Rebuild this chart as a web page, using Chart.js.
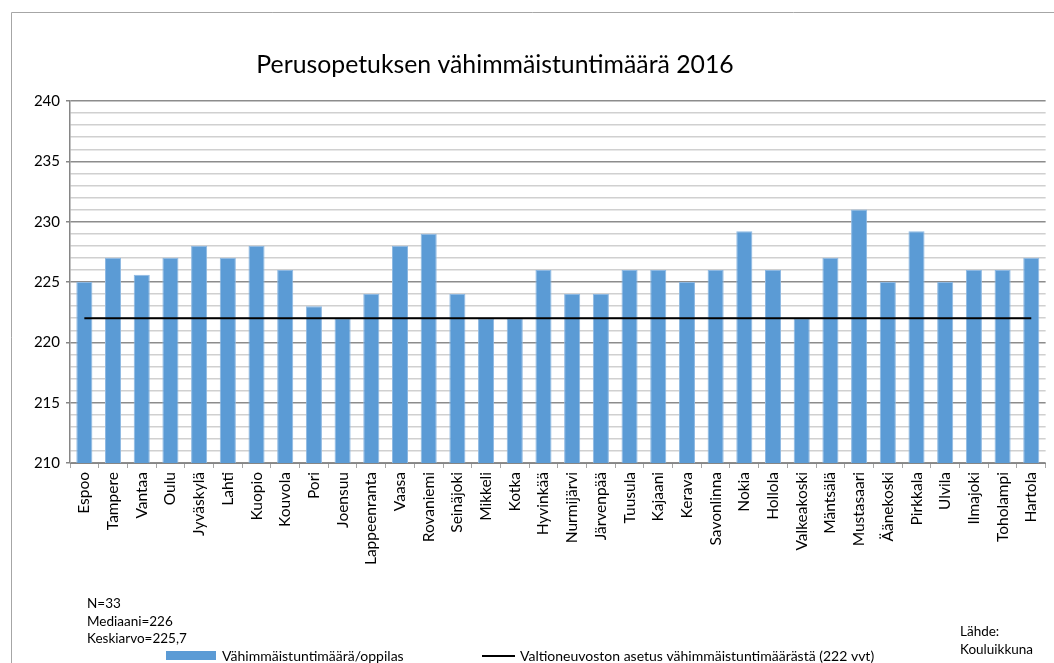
<!DOCTYPE html>
<html>
<head>
<meta charset="utf-8">
<script src="https://cdn.jsdelivr.net/npm/chart.js@4/dist/chart.umd.min.js"></script>
<style>
html,body{margin:0;padding:0;background:#fff;}
#wrap{position:relative;width:1054px;height:663px;}
</style>
</head>
<body>
<div id="wrap"><canvas id="c" width="1054" height="663"></canvas></div>
<script>
const categories = ["Espoo","Tampere","Vantaa","Oulu","Jyväskylä","Lahti","Kuopio","Kouvola","Pori","Joensuu","Lappeenranta","Vaasa","Rovaniemi","Seinäjoki","Mikkeli","Kotka","Hyvinkää","Nurmijärvi","Järvenpää","Tuusula","Kajaani","Kerava","Savonlinna","Nokia","Hollola","Valkeakoski","Mäntsälä","Mustasaari","Äänekoski","Pirkkala","Ulvila","Ilmajoki","Toholampi","Hartola"];
const hours = [225,227,225.6,227,228,227,228,226,223,222,224,228,229,224,222,222,226,224,224,226,226,225,226,229.2,226,222,227,231,225,229.2,225,226,226,227];
const minimumHours = [222,222,222,222,222,222,222,222,222,222,222,222,222,222,222,222,222,222,222,222,222,222,222,222,222,222,222,222,222,222,222,222,222,222];
const titleText = "Perusopetuksen vähimmäistuntimäärä 2016";
const barLabel = "Vähimmäistuntimäärä/oppilas";
const lineLabel = "Valtioneuvoston asetus vähimmäistuntimäärästä (222 vvt)";
const statsLines = ["N=33","Mediaani=226","Keskiarvo=225,7"];
const sourceLines = ["Lähde:","Kouluikkuna"];

const FONT = "Lato, 'Open Sans', sans-serif";

const framePlugin = {
  id: 'frame',
  beforeDraw(chart){
    const ctx = chart.ctx;
    ctx.save();
    ctx.strokeStyle = '#a6a6a6';
    ctx.lineWidth = 1;
    ctx.beginPath();
    ctx.moveTo(11.5, 663);
    ctx.lineTo(11.5, 12.5);
    ctx.lineTo(1054, 12.5);
    ctx.stroke();
    ctx.restore();
  },
  afterDraw(chart){
    const ctx = chart.ctx;
    const barDs = chart.data.datasets.find(d => d.type === 'bar');
    const lineDs = chart.data.datasets.find(d => d.type === 'line');
    ctx.save();
    ctx.fillStyle = '#000';
    ctx.textBaseline = 'middle';
    ctx.textAlign = 'center';
    ctx.font = "24.8px " + FONT;
    ctx.fillText(titleText, 495, 65);
    ctx.textAlign = 'left';
    ctx.font = "13.5px " + FONT;
    statsLines.forEach((t,i)=> ctx.fillText(t, 87, 604 + i*17.5));
    sourceLines.forEach((t,i)=> ctx.fillText(t, 960, 632 + i*18));
    // legend
    ctx.font = "14px " + FONT;
    ctx.fillStyle = barDs.backgroundColor;
    ctx.fillRect(166, 651, 50, 9);
    ctx.fillStyle = '#000';
    ctx.fillText(barDs.label, 222, 656);
    ctx.strokeStyle = lineDs.borderColor;
    ctx.lineWidth = 2;
    ctx.beginPath();
    ctx.moveTo(482, 656); ctx.lineTo(515, 656);
    ctx.stroke();
    ctx.fillText(lineDs.label, 520, 656);
    ctx.restore();
  }
};

new Chart(document.getElementById('c'), {
  data: {
    labels: categories,
    datasets: [
      {
        type: 'line',
        label: lineLabel,
        data: minimumHours,
        borderColor: '#000000',
        borderWidth: 2,
        pointRadius: 0,
        fill: false,
        order: 0
      },
      {
        type: 'bar',
        label: barLabel,
        data: hours,
        backgroundColor: '#5B9BD5',
        borderColor: '#8DB8E2',
        borderWidth: 1,
        categoryPercentage: 1.0,
        barPercentage: 0.56,
        order: 1
      }
    ]
  },
  options: {
    responsive: false,
    animation: false,
    layout: { padding: { top: 101, left: 14, right: 8, bottom: 0 } },
    plugins: {
      legend: { display: false },
      tooltip: { enabled: false },
      title: { display: false }
    },
    scales: {
      x: {
        offset: true,
        grid: { offset: true, drawOnChartArea: false, drawTicks: true, tickLength: 5, color: '#a6a6a6' },
        border: { display: true, color: '#868686', width: 1 },
        ticks: { color: '#000', font: { family: FONT, size: 15.5 }, minRotation: 90, maxRotation: 90, autoSkip: false, padding: 4 },
        afterFit(scale){ scale.height = 200; }
      },
      y: {
        min: 210, max: 240,
        ticks: {
          stepSize: 1,
          autoSkip: false,
          color: '#000',
          font: { family: FONT, size: 15 },
          padding: 6,
          callback: (v) => (v % 5 === 0 ? String(v) : '')
        },
        grid: {
          color: (c) => (c.tick && c.tick.value % 5 === 0 ? '#8c8c8c' : '#d0d0d0'),
          lineWidth: 1.5,
          tickColor: (c) => (c.tick && c.tick.value % 5 === 0 ? '#868686' : 'rgba(0,0,0,0)'),
          tickLength: 4
        },
        border: { display: true, color: '#868686', width: 1.5 },
        afterFit(scale){ scale.width = 56; }
      }
    }
  },
  plugins: [framePlugin]
});
</script>
</body>
</html>
